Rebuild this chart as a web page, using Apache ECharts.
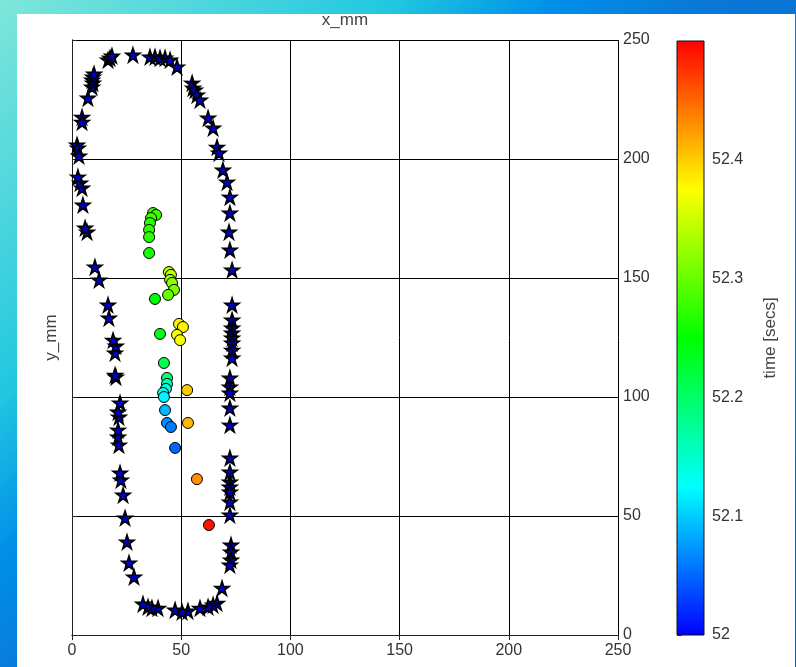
<!DOCTYPE html>
<html><head><meta charset="utf-8">
<script src="https://cdn.jsdelivr.net/npm/echarts@6/dist/echarts.min.js"></script>
<style>
html,body{margin:0;padding:0;width:796px;height:667px;overflow:hidden;}
body{background:linear-gradient(135deg,#7fe6da 0%,#22c8e0 27%,#0090e8 38%,#0a78d8 48%,#0060c8 100%);}
#panel{position:absolute;left:17px;top:14px;width:778px;height:653px;background:#fff;}
#chart{position:absolute;left:0;top:0;width:796px;height:667px;}
</style></head>
<body><div id="panel"></div><div id="chart"></div>
<script>
// ---- data ----
var axisTicks = [0, 50, 100, 150, 200, 250];
var timeTicks = [52, 52.1, 52.2, 52.3, 52.4, 52.5];

var starX = [2.3,2.7,3.2,4.6,4.6,7.3,9.2,9.6,9.2,9.6,10.1,16.5,17.4,18.3,27.9,35.7,38.0,40.3,42.6,44.9,48.1,
  55.0,55.4,56.3,57.2,58.6,62.3,64.6,66.4,67.3,69.1,71.0,72.3,72.3,71.9,72.3,73.3,
  73.3,73.3,73.3,73.3,73.3,73.3,73.3,73.3,72.3,72.3,72.3,72.3,72.3,72.3,72.3,72.3,72.3,72.3,72.3,72.3,
  72.8,72.8,72.8,72.3,68.7,66.4,64.6,62.3,58.6,53.1,50.4,47.2,39.4,36.6,34.8,32.5,
  28.4,26.1,25.2,24.3,23.4,22.4,22.0,21.5,21.1,21.1,21.5,21.1,22.0,20.1,19.7,19.7,20.1,18.8,16.9,16.5,
  12.4,10.5,6.9,6.0,5.0,4.6,3.7,2.7];
var starY = [205.9,204.6,201.3,217.6,215.5,225.6,230.3,231.9,233.2,234.5,235.7,241.6,242.4,243.3,243.7,242.9,242.9,242.4,242.4,241.6,238.7,
  231.9,229.8,229.0,226.9,224.8,217.2,213.0,205.0,202.5,195.4,190.3,184.0,177.3,169.3,161.8,153.4,
  138.7,132.4,129.0,126.9,124.8,122.7,119.7,116.4,108.0,104.2,101.7,95.4,88.2,74.4,68.5,64.3,62.2,60.1,55.9,50.4,
  37.8,34.9,31.5,29.4,19.7,13.4,12.6,11.8,11.3,10.1,9.7,10.5,11.3,11.3,11.8,13.0,
  24.4,30.3,39.1,49.2,58.8,65.1,68.1,79.8,83.2,86.1,91.6,93.7,97.5,108.4,109.2,118.5,121.4,123.9,133.2,138.7,
  149.2,154.6,169.3,171.0,180.7,187.8,189.9,192.4];

var ballX = [37.1,38.5,36.2,35.7,35.3,35.3,35.3,44.4,45.3,44.9,45.8,46.7,44.0,38.0,49.0,50.8,48.1,49.5,40.3,42.1,43.5,43.5,43.0,41.7,42.1,52.7,42.6,43.5,45.3,53.1,47.2,57.2,62.7];
var ballY = [177.3,176.5,175.2,173.1,170.2,167.2,160.5,152.5,151.3,149.2,147.9,145.0,142.9,141.2,130.7,129.4,126.1,123.9,126.5,114.3,108.0,105.5,103.4,101.7,100.0,102.9,94.5,89.1,87.4,89.1,78.6,65.5,46.2];
var ballT = [52.28,52.28,52.28,52.27,52.27,52.27,52.26,52.34,52.34,52.33,52.32,52.31,52.30,52.25,52.38,52.38,52.37,52.37,52.24,52.21,52.19,52.16,52.14,52.13,52.12,52.40,52.09,52.07,52.06,52.41,52.05,52.43,52.49];

var jet = ['#0000ff','#00ffff','#00ff00','#ffff00','#ff0000'];

// ---- build ----
var starData = starX.map(function(x,i){return [x, starY[i]];});
var ballData = ballX.map(function(x,i){return [x, ballY[i], ballT[i]];});

var starPath = 'path://M50 0 L61.2 34.6 L97.6 34.5 L68.1 55.9 L79.4 90.5 L50 69 L20.6 90.5 L31.9 55.9 L2.4 34.5 L38.8 34.6 Z';
var lineCol = '#222';
var txtCol = '#333';
var font = 'Liberation Sans, Arial, sans-serif';

var chart = echarts.init(document.getElementById('chart'), null, {renderer:'canvas'});
var opt = {
  backgroundColor: 'transparent',
  animation: false,
  textStyle: {fontFamily: font},
  grid: [
    {left:72, top:40, width:546, height:595},
    {left:677, top:41, width:27, height:594}
  ],
  visualMap: {
    type:'continuous', show:false, seriesIndex:1, dimension:2,
    min: timeTicks[0], max: timeTicks[timeTicks.length-1],
    inRange: {color: jet}
  },
  xAxis: [
    {gridIndex:0, type:'value', position:'bottom', min:axisTicks[0], max:axisTicks[axisTicks.length-1], interval:50,
     axisLine:{show:true, lineStyle:{color:lineCol, width:1}},
     axisTick:{show:true, length:5, lineStyle:{color:lineCol}},
     axisLabel:{color:txtCol, fontSize:16, margin:8, fontFamily:font},
     splitLine:{show:true, lineStyle:{color:'#000', width:1}}},
    {gridIndex:0, type:'value', position:'top', min:axisTicks[0], max:axisTicks[axisTicks.length-1], interval:50,
     name:'x_mm', nameLocation:'middle', nameGap:11,
     nameTextStyle:{color:'#444', fontSize:17, fontFamily:font},
     axisLine:{show:true, lineStyle:{color:lineCol, width:1}},
     axisTick:{show:false}, axisLabel:{show:false}, splitLine:{show:false}},
    {gridIndex:1, type:'value', min:0, max:1, show:false}
  ],
  yAxis: [
    {gridIndex:0, type:'value', position:'right', min:axisTicks[0], max:axisTicks[axisTicks.length-1], interval:50,
     axisLine:{show:true, lineStyle:{color:lineCol, width:1}},
     axisTick:{show:true, length:5, lineStyle:{color:lineCol}},
     axisLabel:{color:txtCol, fontSize:16, margin:5, fontFamily:font},
     splitLine:{show:true, lineStyle:{color:'#000', width:1}}},
    {gridIndex:0, type:'value', position:'left', min:axisTicks[0], max:axisTicks[axisTicks.length-1], interval:50,
     name:'y_mm', nameLocation:'middle', nameGap:12, nameRotate:90,
     nameTextStyle:{color:'#444', fontSize:17, fontFamily:font},
     axisLine:{show:true, lineStyle:{color:lineCol, width:1}},
     axisTick:{show:false}, axisLabel:{show:false}, splitLine:{show:false}},
    {gridIndex:1, type:'value', position:'right', min:timeTicks[0], max:timeTicks[timeTicks.length-1], interval:0.1,
     name:'time [secs]', nameLocation:'middle', nameGap:58, nameRotate:90,
     nameTextStyle:{color:'#444', fontSize:17, fontFamily:font},
     axisLine:{show:false},
     axisTick:{show:true, length:5, lineStyle:{color:'#444'}},
     minorTick:{show:true, splitNumber:2, length:5, lineStyle:{color:'#444'}},
     axisLabel:{color:txtCol, fontSize:16, margin:8, showMaxLabel:false, fontFamily:font,
       formatter:function(v){return String(Math.round(v*10)/10);}},
     splitLine:{show:false}}
  ],
  series: [
    {type:'scatter', xAxisIndex:0, yAxisIndex:0, data:starData, symbol:starPath, symbolSize:14,
     itemStyle:{color:'#0000cc', opacity:1, borderColor:'#000', borderWidth:1.6}, z:3},
    {type:'scatter', xAxisIndex:0, yAxisIndex:0, data:ballData, symbol:'circle', symbolSize:11,
     itemStyle:{opacity:1, borderColor:'#000', borderWidth:1}, z:4},
    {type:'custom', xAxisIndex:2, yAxisIndex:2, data:[[0, timeTicks[0]]], z:2,
     renderItem:function(params, api){
       var p0 = api.coord([0, timeTicks[timeTicks.length-1]]);
       var p1 = api.coord([1, timeTicks[0]]);
       var stops = jet.slice().reverse().map(function(c,i,a){return {offset:i/(a.length-1), color:c};});
       return {type:'rect', shape:{x:p0[0], y:p0[1], width:p1[0]-p0[0], height:p1[1]-p0[1]},
         style:{fill:new echarts.graphic.LinearGradient(0,0,0,1,stops), stroke:'#111', lineWidth:1}};
     }}
  ]
};
chart.setOption(opt);
</script></body></html>
